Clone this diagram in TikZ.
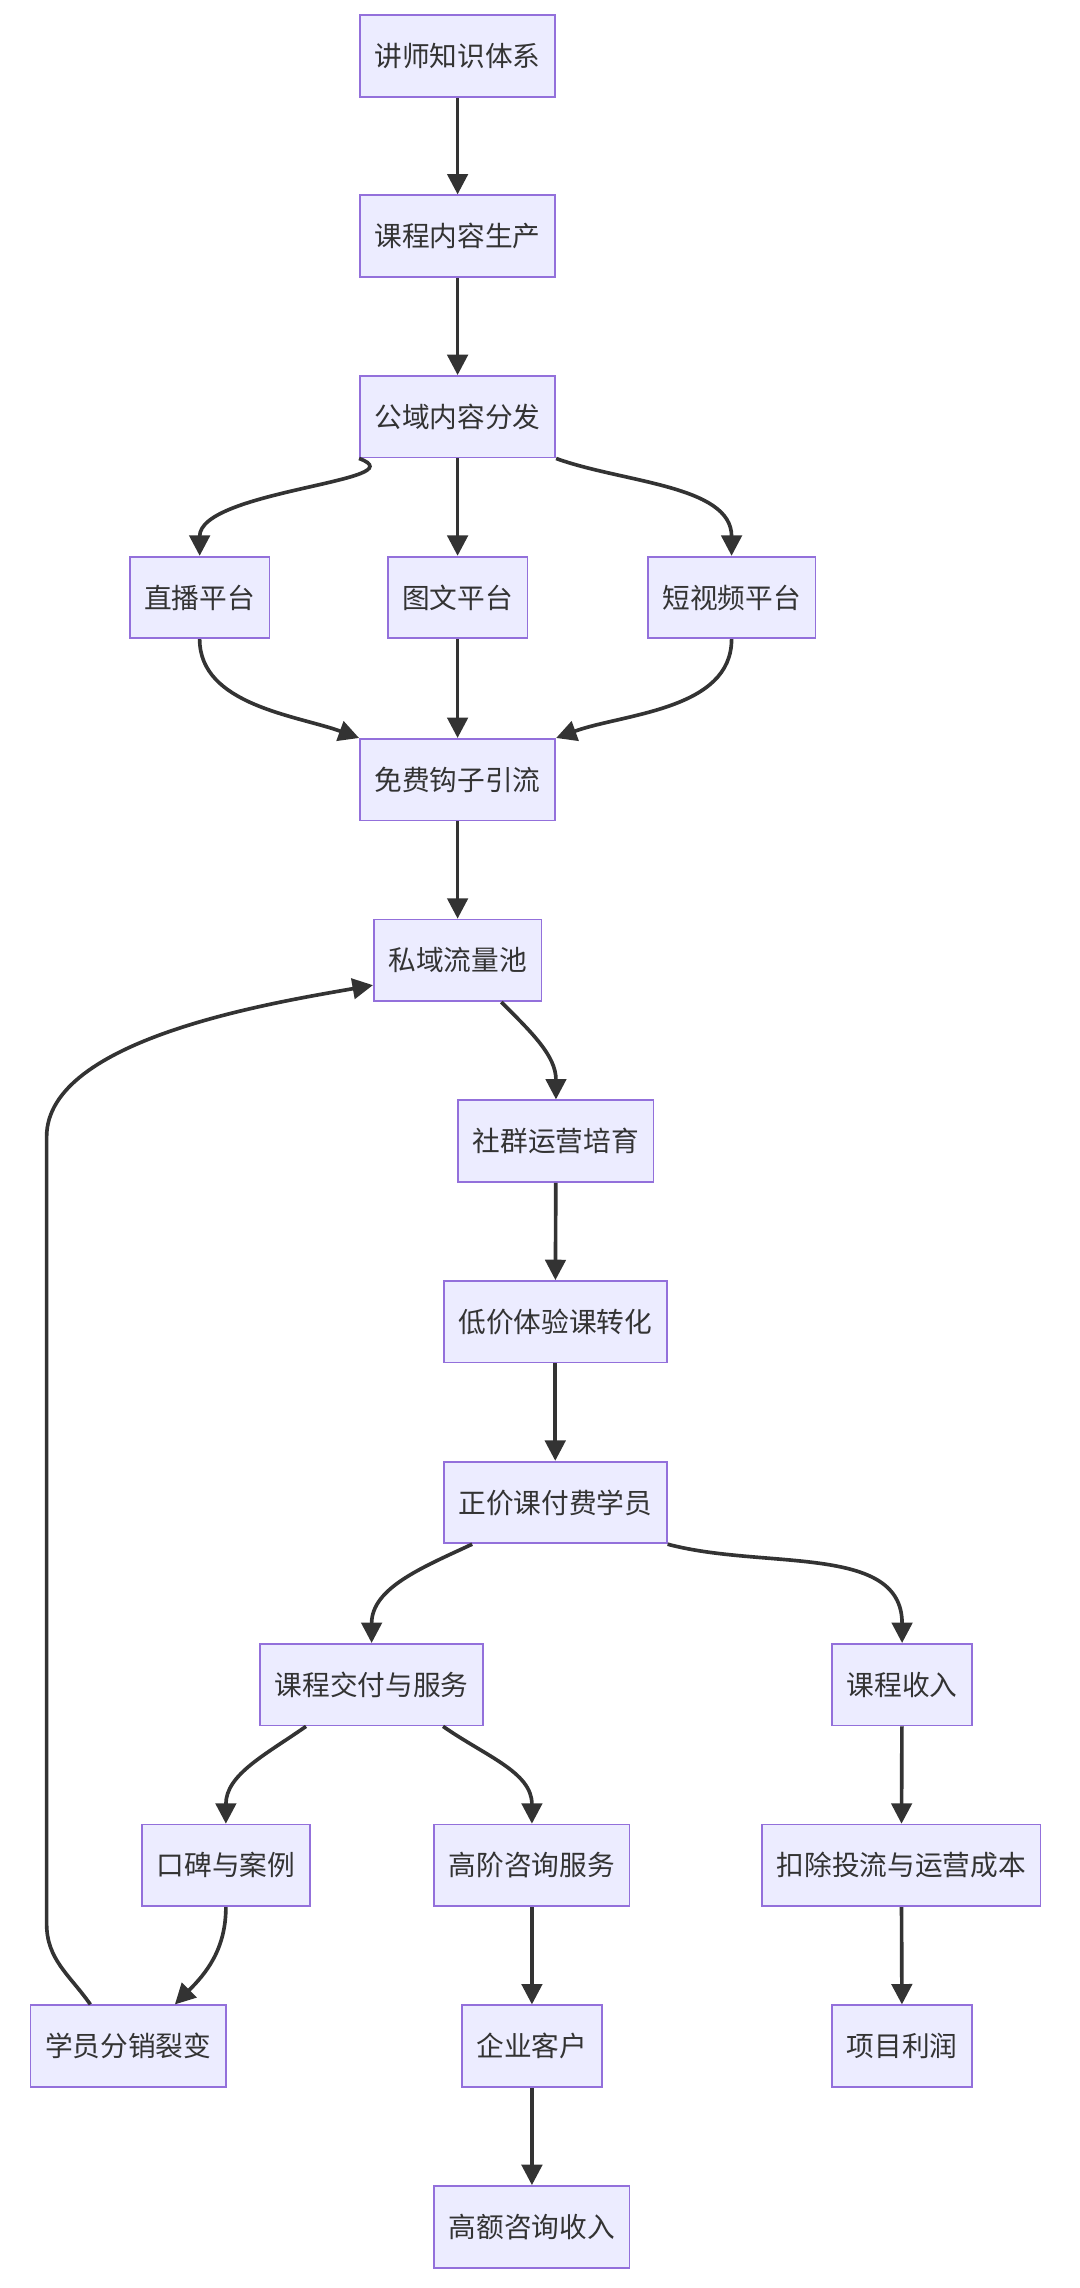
\documentclass[tikz,border=0pt]{standalone}
\usepackage{fontspec}
\setmainfont{Noto Sans CJK SC}
\usetikzlibrary{arrows.meta,calc}
\begin{document}
\begin{tikzpicture}[x=1pt,y=-1pt,
  box/.style={draw=violet!60!blue!70!white,fill=blue!8,line width=1.2pt,minimum height=56pt,inner xsep=10pt,font=\fontsize{19}{22}\selectfont,text=black!80},
  arr/.style={draw=black!80,line width=2.5pt,-{Triangle[length=14pt,width=14pt]}}]
\useasboundingbox (0,0) rectangle (741,1570);
\definecolor{bd}{HTML}{9370DB}\definecolor{fl}{HTML}{ECECFF}
\tikzset{box/.append style={draw=bd,fill=fl}}
\node[box] (a) at (314,38.5) {讲师知识体系};
\node[box] (b) at (314,162) {课程内容生产};
\node[box] (c) at (314,286) {公域内容分发};
\node[box] (d1) at (137,410) {直播平台};
\node[box] (d2) at (314,410) {图文平台};
\node[box] (d3) at (502,410) {短视频平台};
\node[box] (e) at (314,535) {免费钩子引流};
\node[box] (f) at (314,659) {私域流量池};
\node[box] (g) at (381.5,783) {社群运营培育};
\node[box] (h) at (381,907) {低价体验课转化};
\node[box] (i) at (381,1031) {正价课付费学员};
\node[box] (j) at (255,1156) {课程交付与服务};
\node[box] (k) at (619,1156) {课程收入};
\node[box] (l) at (155,1280) {口碑与案例};
\node[box] (m) at (365,1280) {高阶咨询服务};
\node[box] (n) at (618.5,1280) {扣除投流与运营成本};
\node[box] (o) at (88,1404) {学员分销裂变};
\node[box] (p) at (365,1404) {企业客户};
\node[box] (q) at (619,1404) {项目利润};
\node[box] (r) at (365,1528) {高额咨询收入};
\draw[arr] (a) -- (b);
\draw[arr] (b) -- (c);
\draw[arr] (c.south west) to[out=-20,in=90,looseness=0.9] (d1.north);
\draw[arr] (c) -- (d2);
\draw[arr] (c.south east) to[out=-20,in=90,looseness=0.9] (d3.north);
\draw[arr] (d1.south) to[out=-90,in=160,looseness=0.9] (e.north west);
\draw[arr] (d2) -- (e);
\draw[arr] (d3.south) to[out=-90,in=20,looseness=0.9] (e.north east);
\draw[arr] (e) -- (f);
\draw[arr] ($(f.south)+(30,0)$) to[out=-45,in=90] (g.north);
\draw[arr] (g) -- (h);
\draw[arr] (h) -- (i);
\draw[arr] ($(i.south)+(-57,0)$) to[out=-155,in=90] (j.north);
\draw[arr] (i.south east) to[out=-15,in=90] (k.north);
\draw[arr] ($(j.south)+(-45,0)$) to[out=-145,in=90] (l.north);
\draw[arr] ($(j.south)+(49,0)$) to[out=-35,in=90] (m.north);
\draw[arr] (k) -- (n);
\draw[arr] (m) -- (p);
\draw[arr] (n) -- (q);
\draw[arr] (p) -- (r);
\draw[arr] (l.south) to[out=-90,in=45] ($(o.north)+(32,0)$);
\coordinate (t1) at (32,1320);
\coordinate (t2) at (32,780);
\draw[arr] ($(o.north)+(-26,0)$) to[out=125,in=-90] (t1) -- (t2) to[out=90,in=190,looseness=0.7] ($(f.west)+(0,17)$);
\end{tikzpicture}
\end{document}
